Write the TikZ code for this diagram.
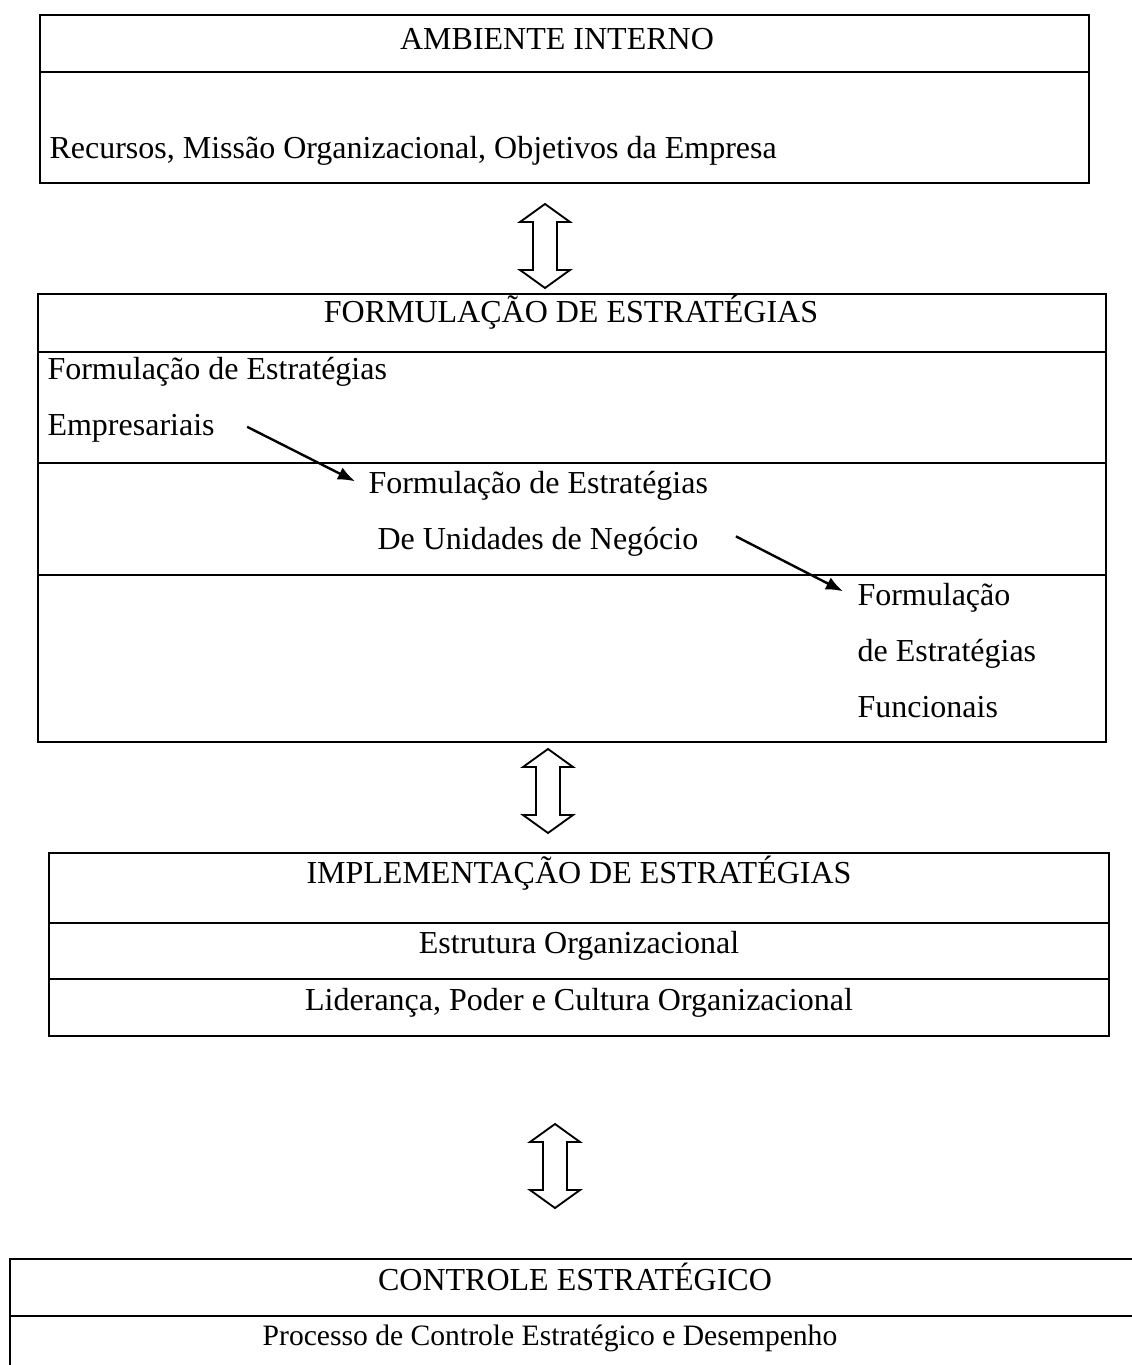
\documentclass[tikz,border=0pt]{standalone}
\usepackage{fontspec}
\setmainfont{Liberation Serif}
\usetikzlibrary{positioning}
\usetikzlibrary{arrows.meta}
\usetikzlibrary{calc}
\usetikzlibrary{math}

\tikzset{
  txt/.style={inner sep=0pt, font=\fontsize{12}{14}\selectfont},
  boxline/.style={line width=1pt},
  blk/.style={line width=0.7pt, fill=white, line join=miter},
  lnk/.style={line width=0.9pt, -{Latex[length=6.4pt,width=5pt]}}
}

% hollow up/down block arrow around a coordinate
\newcommand{\dblarrow}[1]{%
  \draw[blk] ($(#1)+(0,-\arrlen)$) -- ++(\headw,\headh) -- ++(-\headw+\shaftw,0)
    -- ++(0,2*\arrlen-2*\headh) -- ++(\headw-\shaftw,0) -- ++(-\headw,\headh)
    -- ++(-\headw,-\headh) -- ++(\headw-\shaftw,0)
    -- ++(0,-2*\arrlen+2*\headh) -- ++(-\headw+\shaftw,0) -- cycle;}

\begin{document}
\begin{tikzpicture}[x=0.375pt,y=-0.375pt]

  \tikzmath{
    \arrlen = 42;  % half length of the block arrows
    \headh  = 18;  % length of the arrow heads
    \headw  = 25;  % half width of the heads
    \shaftw = 12;  % half width of the shaft
    \gap    = 56;  % distance between lines of text
  }

  \clip (0,0) rectangle (1132,1365);
  \useasboundingbox (0,0) rectangle (1132,1365);

  % Ambiente interno
  \draw[boxline] (40,15) rectangle (1089,183);
  \draw[boxline] (40,72) -- (1089,72);
  \node[txt, anchor=base] (amb) at (557,50) {AMBIENTE INTERNO};
  \node[txt, anchor=base west] (rec) at (49,159) {Recursos, Missão Organizacional, Objetivos da Empresa};

  \coordinate (U1) at (545,246);
  \dblarrow{U1}

  % Formulacao de estrategias
  \draw[boxline] (38,294) rectangle (1106,742);
  \draw[boxline] (38,352) -- (1106,352);
  \draw[boxline] (38,463) -- (1106,463);
  \draw[boxline] (38,575) -- (1106,575);
  \node[txt, anchor=base] (form) at (571,323) {FORMULAÇÃO DE ESTRATÉGIAS};
  \node[txt, anchor=base west] (emp1) at (47,380) {Formulação de Estratégias};
  \node[txt, anchor=base west] (emp2) at (47,380+\gap) {Empresariais};
  \node[txt, anchor=base west] (uni1) at (368,493) {Formulação de Estratégias};
  \node[txt, anchor=base west] (uni2) at (377,493+\gap) {De Unidades de Negócio};
  \node[txt, anchor=base west] (fun1) at (857,605) {Formulação};
  \node[txt, anchor=base west] (fun2) at (857,605+\gap) {de Estratégias};
  \node[txt, anchor=base west] (fun3) at (857,605+2*\gap) {Funcionais};

  \draw[lnk] ($(emp2.east)+(32,-2)$) -- ($(uni1.west)+(-13,-4)$);
  \draw[lnk] ($(uni2.east)+(37,-5)$) -- ($(fun1.west)+(-14,-6)$);

  \coordinate (U2) at (548,791);
  \dblarrow{U2}

  % Implementacao de estrategias
  \draw[boxline] (49,853) rectangle (1109,1036);
  \draw[boxline] (49,923) -- (1109,923);
  \draw[boxline] (49,979) -- (1109,979);
  \node[txt, anchor=base] (imp) at (579,883) {IMPLEMENTAÇÃO DE ESTRATÉGIAS};
  \node[txt, anchor=base] (est) at (579,953) {Estrutura Organizacional};
  \node[txt, anchor=base] (lid) at (579,1010) {Liderança, Poder e Cultura Organizacional};

  \coordinate (U3) at (555,1166);
  \dblarrow{U3}

  % Controle estrategico (runs past the page)
  \draw[boxline] (1140,1259) -- (10,1259) -- (10,1375);
  \draw[boxline] (10,1316) -- (1140,1316);
  \node[txt, anchor=base] (con) at (575,1290) {CONTROLE ESTRATÉGICO};
  \node[txt, anchor=base, font=\fontsize{11.1}{13}\selectfont] (pro) at (550,1345) {Processo de Controle Estratégico e Desempenho};

\end{tikzpicture}
\end{document}
